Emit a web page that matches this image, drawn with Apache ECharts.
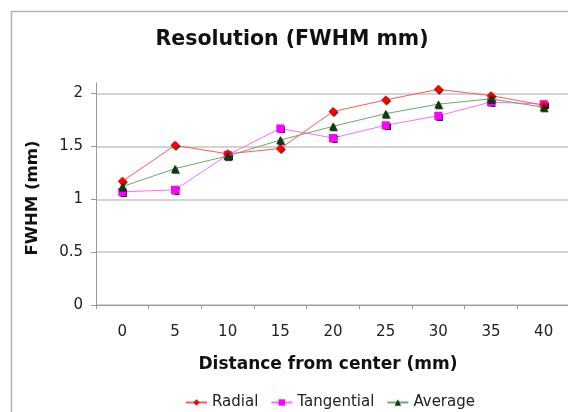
<!DOCTYPE html>
<html>
<head>
<meta charset="utf-8">
<script src="https://cdn.jsdelivr.net/npm/echarts@6/dist/echarts.min.js"></script>
<style>
  html, body { margin: 0; padding: 0; background: #fff; }
  #chart { width: 568px; height: 412px; }
</style>
</head>
<body>
<div id="chart"></div>
<script>
// Distance from the center of the field of view (mm)
const distances = ['0', '5', '10', '15', '20', '25', '30', '35', '40'];
// FWHM resolution (mm) per direction
const radial     = [1.17, 1.51, 1.43, 1.48, 1.83, 1.94, 2.04, 1.98, 1.89];
const tangential = [1.07, 1.09, 1.42, 1.67, 1.58, 1.70, 1.79, 1.92, 1.90];
const average    = [1.12, 1.29, 1.41, 1.56, 1.69, 1.81, 1.90, 1.95, 1.87];

// Labelled values on the FWHM axis; the plot area runs a little above the last one
const yTicks = [0, 0.5, 1, 1.5, 2];
const yMax = 2.1;

const font = 'DejaVu Sans, Verdana, sans-serif';
const chart = echarts.init(document.getElementById('chart'), null, { renderer: 'canvas' });

const markerShadow = { shadowColor: 'rgba(0,0,0,0.85)', shadowOffsetX: 1, shadowOffsetY: 1, shadowBlur: 1 };

chart.setOption({
  animation: false,
  backgroundColor: '#fff',
  title: {
    text: 'Resolution (FWHM mm)',
    left: 287,
    textAlign: 'center',
    top: 24,
    textStyle: { fontFamily: font, fontSize: 20.5, fontWeight: 'bold', color: '#111' }
  },
  graphic: [{
    type: 'rect',
    shape: { x: 11.5, y: 11.5, width: 700, height: 600 },
    style: { fill: 'none', stroke: '#b4b4b4', lineWidth: 1.5 },
    silent: true,
    z: -1
  }],
  grid: { left: 96, right: -2, top: 83, bottom: 107, outerBoundsMode: 'none' },
  xAxis: {
    type: 'category',
    data: distances,
    boundaryGap: true,
    name: 'Distance from center (mm)',
    nameLocation: 'middle',
    nameGap: 51,
    nameTextStyle: { fontFamily: font, fontSize: 17, fontWeight: 'bold', color: '#111', padding: [0, 10, 0, 0] },
    axisLine: { lineStyle: { color: '#9a9a9a', width: 1 } },
    axisTick: { show: true, length: 4, lineStyle: { color: '#9a9a9a' } },
    axisLabel: { margin: 20, fontFamily: font, fontSize: 15, color: '#222' },
    splitLine: { show: false }
  },
  yAxis: {
    type: 'value',
    min: 0,
    max: yMax,
    interval: 0.5,
    name: 'FWHM (mm)',
    nameLocation: 'middle',
    nameGap: 55,
    nameTextStyle: { fontFamily: font, fontSize: 16.5, fontWeight: 'bold', color: '#111', padding: [0, 8, 0, 0] },
    axisLine: { show: true, lineStyle: { color: '#9a9a9a', width: 1 } },
    axisTick: { show: true, length: 5, customValues: yTicks, lineStyle: { color: '#9a9a9a' } },
    axisLabel: {
      margin: 13,
      customValues: yTicks,
      fontFamily: font, fontSize: 15, color: '#222'
    },
    splitLine: { show: true, lineStyle: { color: '#c4c4c4', width: 1.5 } }
  },
  legend: {
    top: 390,
    left: 180,
    itemWidth: 21,
    itemHeight: 8,
    itemGap: 12,
    textStyle: { fontFamily: font, fontSize: 15, color: '#222' },
    data: ['Radial', 'Tangential', 'Average']
  },
  series: [
    {
      name: 'Radial',
      type: 'line',
      data: radial,
      symbol: 'diamond',
      symbolSize: 9,
      lineStyle: { color: '#ff5a5a', width: 1 },
      itemStyle: Object.assign({ color: '#ff0000' }, markerShadow),
      z: 4
    },
    {
      name: 'Tangential',
      type: 'line',
      data: tangential,
      symbol: 'rect',
      symbolSize: 8,
      lineStyle: { color: '#ff6cff', width: 1 },
      itemStyle: Object.assign({ color: '#ff00ff' }, markerShadow),
      z: 3
    },
    {
      name: 'Average',
      type: 'line',
      data: average,
      symbol: 'triangle',
      symbolSize: 8,
      lineStyle: { color: '#6fa86f', width: 1 },
      itemStyle: Object.assign({ color: '#0a3d0a' }, markerShadow),
      z: 5
    }
  ]
});
</script>
</body>
</html>
